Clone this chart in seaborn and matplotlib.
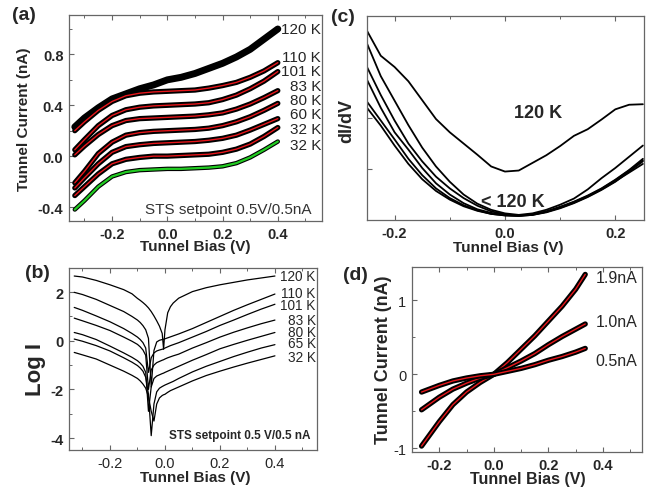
import numpy as np
import pandas as pd
import matplotlib.pyplot as plt
import seaborn as sns
from matplotlib.ticker import AutoMinorLocator, FormatStrFormatter

# ---------------- (a) I-V curves, setpoint 0.5V/0.5nA ----------------
bias_a = [-0.335, -0.30, -0.25, -0.20, -0.15, -0.10, -0.05, 0.00, 0.05, 0.10, 0.15, 0.20, 0.25, 0.30, 0.35, 0.40]
iv_120K = [0.23, 0.30, 0.38, 0.45, 0.49, 0.53, 0.56, 0.60, 0.62, 0.65, 0.69, 0.73, 0.78, 0.84, 0.92, 1.00]
iv_110K = [0.20, 0.27, 0.36, 0.43, 0.475, 0.495, 0.505, 0.51, 0.515, 0.52, 0.535, 0.555, 0.58, 0.62, 0.67, 0.735]
iv_101K = [0.05, 0.13, 0.24, 0.32, 0.365, 0.385, 0.395, 0.40, 0.405, 0.41, 0.42, 0.445, 0.48, 0.53, 0.59, 0.665]
iv_83K = [0.01, 0.08, 0.17, 0.24, 0.28, 0.295, 0.30, 0.305, 0.31, 0.315, 0.325, 0.34, 0.37, 0.41, 0.46, 0.515]
iv_80K = [-0.21, -0.12, 0.02, 0.11, 0.165, 0.185, 0.195, 0.20, 0.205, 0.21, 0.22, 0.24, 0.27, 0.31, 0.36, 0.415]
iv_60K = [-0.25, -0.17, -0.06, 0.03, 0.075, 0.09, 0.10, 0.105, 0.11, 0.115, 0.125, 0.14, 0.165, 0.205, 0.25, 0.295]
iv_32K = [-0.31, -0.24, -0.14, -0.06, -0.025, -0.01, 0.0, 0.0, 0.005, 0.01, 0.015, 0.03, 0.055, 0.095, 0.155, 0.225]
iv_32K_b = [-0.42, -0.35, -0.24, -0.16, -0.125, -0.11, -0.105, -0.10, -0.10, -0.095, -0.09, -0.08, -0.055, -0.01, 0.05, 0.115]
labels_a = ["120 K", "110 K", "101 K", "83 K", "80 K", "60 K", "32 K", "32 K"]

# ---------------- (b) log I ----------------
bias_b = [-0.33, -0.30, -0.25, -0.20, -0.15, -0.12, -0.10, -0.09, -0.08, -0.07, -0.06, -0.05, -0.04, -0.03,
          -0.02, -0.01, -0.005, 0.00, 0.01, 0.02, 0.03, 0.05, 0.10, 0.15, 0.20, 0.25, 0.30, 0.35, 0.40]
logi_120K = [2.66, 2.62, 2.48, 2.30, 2.10, 1.93, 1.74, 1.66, 1.57, 1.47, 1.35, 1.20, 1.02, 0.82,
             0.60, 0.30, -0.35, 0.45, 1.15, 1.40, 1.55, 1.75, 2.02, 2.18, 2.30, 2.40, 2.50, 2.58, 2.66]
logi_110K = [1.99, 1.90, 1.70, 1.45, 1.20, 1.00, 0.85, 0.75, 0.62, 0.45, 0.10, -1.90, -0.40, -0.05,
             0.02, 0.05, 0.06, 0.08, 0.12, 0.16, 0.20, 0.28, 0.50, 0.75, 1.00, 1.25, 1.48, 1.70, 1.92]
logi_101K = [1.37, 1.25, 1.02, 0.78, 0.50, 0.30, 0.15, 0.05, -0.08, -0.30, -1.30, -0.70, -0.50, -0.42,
             -0.38, -0.35, -0.33, -0.30, -0.25, -0.20, -0.16, -0.08, 0.15, 0.38, 0.63, 0.85, 1.08, 1.30, 1.50]
logi_83K = [0.93, 0.82, 0.63, 0.42, 0.15, -0.02, -0.15, -0.25, -0.38, -0.60, -2.00, -1.20, -1.00, -0.90,
            -0.85, -0.80, -0.78, -0.75, -0.70, -0.66, -0.62, -0.55, -0.30, -0.08, 0.15, 0.35, 0.53, 0.70, 0.85]
logi_80K = [0.34, 0.25, 0.05, -0.22, -0.50, -0.68, -0.82, -0.92, -1.05, -1.30, -2.90, -1.90, -1.55, -1.45,
            -1.40, -1.35, -1.33, -1.30, -1.25, -1.20, -1.15, -1.05, -0.80, -0.57, -0.33, -0.15, 0.02, 0.18, 0.34]
logi_65K = [0.07, -0.02, -0.20, -0.42, -0.70, -0.88, -1.02, -1.12, -1.25, -1.50, -2.20, -3.90, -2.60, -2.10,
            -1.95, -1.88, -1.85, -1.82, -1.77, -1.72, -1.67, -1.55, -1.28, -1.05, -0.85, -0.65, -0.47, -0.30, -0.16]
logi_32K = [-0.48, -0.58, -0.75, -1.00, -1.25, -1.42, -1.55, -1.65, -1.78, -1.95, -2.30, -2.90, -3.30, -2.60,
            -2.35, -2.25, -2.22, -2.20, -2.12, -2.05, -2.00, -1.90, -1.65, -1.43, -1.25, -1.08, -0.92, -0.77, -0.62]
labels_b = ["120 K", "110 K", "101 K", "83 K", "80 K", "65 K", "32 K"]

# ---------------- (c) dI/dV ----------------
bias_c = [-0.25, -0.225, -0.20, -0.175, -0.15, -0.125, -0.10, -0.075, -0.05, -0.025, 0.0,
          0.025, 0.05, 0.075, 0.10, 0.125, 0.15, 0.175, 0.20, 0.225, 0.25]
didv_120K = [3.71, 3.22, 3.00, 2.72, 2.35, 1.98, 1.72, 1.50, 1.28, 1.05, 0.95,
             0.97, 1.12, 1.27, 1.45, 1.65, 1.78, 1.97, 2.17, 2.26, 2.27]
didv_low1 = [3.46, 2.82, 2.34, 1.86, 1.42, 1.05, 0.75, 0.50, 0.32, 0.20, 0.13,
             0.10, 0.13, 0.20, 0.30, 0.42, 0.60, 0.82, 1.02, 1.24, 1.46]
didv_low2 = [3.00, 2.45, 1.95, 1.50, 1.15, 0.85, 0.62, 0.43, 0.28, 0.17, 0.11,
             0.09, 0.11, 0.16, 0.24, 0.34, 0.46, 0.60, 0.76, 0.93, 1.10]
didv_low3 = [2.75, 2.20, 1.72, 1.38, 1.02, 0.72, 0.50, 0.33, 0.21, 0.14, 0.10,
             0.085, 0.11, 0.17, 0.26, 0.36, 0.48, 0.62, 0.79, 0.98, 1.20]
didv_low4 = [2.32, 1.95, 1.58, 1.20, 0.88, 0.62, 0.43, 0.29, 0.19, 0.12, 0.09,
             0.08, 0.10, 0.15, 0.23, 0.33, 0.45, 0.59, 0.75, 0.95, 1.15]
didv_low5 = [2.20, 1.85, 1.46, 1.10, 0.80, 0.57, 0.40, 0.27, 0.18, 0.12, 0.09,
             0.08, 0.10, 0.16, 0.25, 0.35, 0.47, 0.61, 0.78, 0.97, 1.17]

# ---------------- (d) I-V at different setpoint currents ----------------
bias_d = [-0.265, -0.20, -0.15, -0.10, -0.05, 0.0, 0.05, 0.10, 0.15, 0.20, 0.25, 0.30, 0.335]
iv_1p9nA = [-0.97, -0.64, -0.41, -0.24, -0.11, 0.0, 0.16, 0.34, 0.52, 0.72, 0.92, 1.15, 1.35]
iv_1p0nA = [-0.48, -0.31, -0.20, -0.12, -0.05, 0.0, 0.09, 0.18, 0.28, 0.40, 0.51, 0.61, 0.68]
iv_0p5nA = [-0.24, -0.15, -0.09, -0.05, -0.02, 0.0, 0.04, 0.08, 0.13, 0.19, 0.24, 0.30, 0.35]
labels_d = ["1.9nA", "1.0nA", "0.5nA"]

sns.set_style("ticks")
plt.rcParams['font.family'] = ['Liberation Sans', 'DejaVu Sans']
plt.rcParams['axes.unicode_minus'] = False
plt.rcParams['axes.edgecolor'] = '#666666'
plt.rcParams['axes.linewidth'] = 0.9

W, H = 647, 489
fig = plt.figure(figsize=(W / 100, H / 100), dpi=100)


def rect(x0, y0, x1, y1):
    # pixel box -> figure fraction
    return [x0 / W, 1 - y1 / H, (x1 - x0) / W, (y1 - y0) / H]


def fpt(x, y):
    return x / W, 1 - y / H


def style(ax, bold=True, size=10.5):
    ax.tick_params(direction='in', length=3.5, width=0.8, top=True, right=False,
                   labelsize=size, pad=4, color='#666666')
    ax.tick_params(which='minor', direction='in', length=2.5, width=0.7, top=True, right=False,
                   color='#666666')
    for lab in ax.get_xticklabels() + ax.get_yticklabels():
        lab.set_fontweight('bold' if bold else 'normal')
    ax.set_xlabel('')
    ax.set_ylabel('')


ax_a = fig.add_axes(rect(69, 16, 322, 222))
ax_c = fig.add_axes(rect(367, 17, 644, 221))
ax_b = fig.add_axes(rect(69, 269, 317, 451))
ax_d = fig.add_axes(rect(412, 268, 642, 453))

# ---- (a) ----
curves_a = [iv_120K, iv_110K, iv_101K, iv_83K, iv_80K, iv_60K, iv_32K, iv_32K_b]
for i, iv in enumerate(curves_a):
    if i == 0:
        sns.lineplot(x=bias_a, y=iv, ax=ax_a, color='black', lw=5.0, sort=False)
    elif i == len(curves_a) - 1:
        sns.lineplot(x=bias_a, y=iv, ax=ax_a, color='black', lw=3.2, sort=False)
        sns.lineplot(x=bias_a, y=iv, ax=ax_a, color='#22cc22', lw=1.6, sort=False)
    else:
        sns.lineplot(x=bias_a, y=iv, ax=ax_a, color='black', lw=3.8, sort=False)
        sns.lineplot(x=bias_a, y=iv, ax=ax_a, color='#e8161b', lw=1.0, sort=False)
ax_a.set_xlim(-0.356, 0.56)
ax_a.set_ylim(-0.51, 1.11)
ax_a.set_xticks([-0.2, 0.0, 0.2, 0.4])
ax_a.set_yticks([-0.4, 0.0, 0.4, 0.8])
ax_a.xaxis.set_major_formatter(FormatStrFormatter('%.1f'))
ax_a.yaxis.set_major_formatter(FormatStrFormatter('%.1f'))
ax_a.xaxis.set_minor_locator(AutoMinorLocator(2))
ax_a.yaxis.set_minor_locator(AutoMinorLocator(2))
style(ax_a)
label_y_a = [1.0, 0.78, 0.67, 0.55, 0.44, 0.33, 0.21, 0.09]
for lab, yy in zip(labels_a, label_y_a):
    ax_a.text(0.997, yy, lab, transform=ax_a.get_yaxis_transform(), ha='right', va='center',
              fontsize=11)
ax_a.text(0.96, 0.06, "STS setpoint 0.5V/0.5nA", transform=ax_a.transAxes, ha='right', va='center',
          fontsize=11, color='#333333')

# ---- (b) ----
curves_b = [logi_120K, logi_110K, logi_101K, logi_83K, logi_80K, logi_65K, logi_32K]
for lg in curves_b:
    sns.lineplot(x=bias_b, y=lg, ax=ax_b, color='black', lw=0.9, sort=False)
ax_b.set_xlim(-0.349, 0.553)
ax_b.set_ylim(-4.49, 2.99)
ax_b.set_xticks([-0.2, 0.0, 0.2, 0.4])
ax_b.set_yticks([-4, -2, 0, 2])
ax_b.xaxis.set_major_formatter(FormatStrFormatter('%.1f'))
ax_b.xaxis.set_minor_locator(AutoMinorLocator(2))
ax_b.yaxis.set_minor_locator(AutoMinorLocator(2))
style(ax_b, bold=False, size=10.5)
for lab in ax_b.get_yticklabels():
    lab.set_fontweight('bold')
label_y_b = [2.67, 1.95, 1.47, 0.86, 0.37, -0.09, -0.66]
for lab, yy in zip(labels_b, label_y_b):
    ax_b.text(0.995, yy, lab, transform=ax_b.get_yaxis_transform(), ha='right', va='center',
              fontsize=9.8)
ax_b.text(0.975, 0.085, "STS setpoint 0.5 V/0.5 nA", transform=ax_b.transAxes, ha='right',
          va='center', fontsize=8.5, fontweight='bold')

# ---- (c) ----
curves_c = [didv_120K, didv_low1, didv_low2, didv_low3, didv_low4, didv_low5]
for dd in curves_c:
    sns.lineplot(x=bias_c, y=dd, ax=ax_c, color='black', lw=1.3, sort=False)
ax_c.set_xlim(-0.25, 0.252)
ax_c.set_ylim(0.0, 4.0)
ax_c.set_xticks([-0.2, 0.0, 0.2])
ax_c.xaxis.set_major_formatter(FormatStrFormatter('%.1f'))
ax_c.xaxis.set_minor_locator(AutoMinorLocator(2))
ax_c.set_yticks([1, 2])
ax_c.set_yticklabels([])
style(ax_c)
ax_c.text(0.06, 2.1, "120 K", fontsize=13, fontweight='bold', ha='center', va='center')
ax_c.text(0.015, 0.37, "< 120 K", fontsize=13, fontweight='bold', ha='center', va='center')

# ---- (d) ----
curves_d = [iv_1p9nA, iv_1p0nA, iv_0p5nA]
for iv in curves_d:
    sns.lineplot(x=bias_d, y=iv, ax=ax_d, color='black', lw=3.8, sort=False)
    sns.lineplot(x=bias_d, y=iv, ax=ax_d, color='#e8161b', lw=1.0, sort=False)
ax_d.set_xlim(-0.30, 0.543)
ax_d.set_ylim(-1.05, 1.45)
ax_d.set_xticks([-0.2, 0.0, 0.2, 0.4])
ax_d.set_yticks([-1, 0, 1])
ax_d.xaxis.set_major_formatter(FormatStrFormatter('%.1f'))
ax_d.xaxis.set_minor_locator(AutoMinorLocator(2))
ax_d.yaxis.set_minor_locator(AutoMinorLocator(2))
style(ax_d)
for lab in ax_d.get_yticklabels():
    lab.set_fontweight('normal')
label_y_d = [1.31, 0.72, 0.18]
for lab, yy in zip(labels_d, label_y_d):
    ax_d.text(0.372, yy, lab, ha='left', va='center', fontsize=11.5)

# ---- axis titles and panel letters ----
lab_kw = dict(fontweight='bold', ha='center', va='center')
fig.text(*fpt(195, 247), "Tunnel Bias (V)", fontsize=11, **lab_kw)
fig.text(*fpt(24, 119), "Tunnel Current (nA)", fontsize=11, rotation=90, **lab_kw)
fig.text(*fpt(195, 478), "Tunnel Bias (V)", fontsize=11, **lab_kw)
fig.text(*fpt(36, 370), "Log I", fontsize=16, rotation=90, **lab_kw)
fig.text(*fpt(508, 248), "Tunnel Bias (V)", fontsize=11, **lab_kw)
fig.text(*fpt(347, 121), "dI/dV", fontsize=13, rotation=90, **lab_kw)
fig.text(*fpt(528, 480), "Tunnel Bias (V)", fontsize=11.5, **lab_kw)
fig.text(*fpt(384, 360), "Tunnel Current (nA)", fontsize=13, rotation=90, **lab_kw)

for letter, (px, py) in zip(["(a)", "(b)", "(c)", "(d)"], [(24, 15), (37, 273), (343, 18), (355, 275)]):
    fig.text(*fpt(px, py), letter, fontsize=14, **lab_kw)

fig.savefig("out.png", dpi=100)
